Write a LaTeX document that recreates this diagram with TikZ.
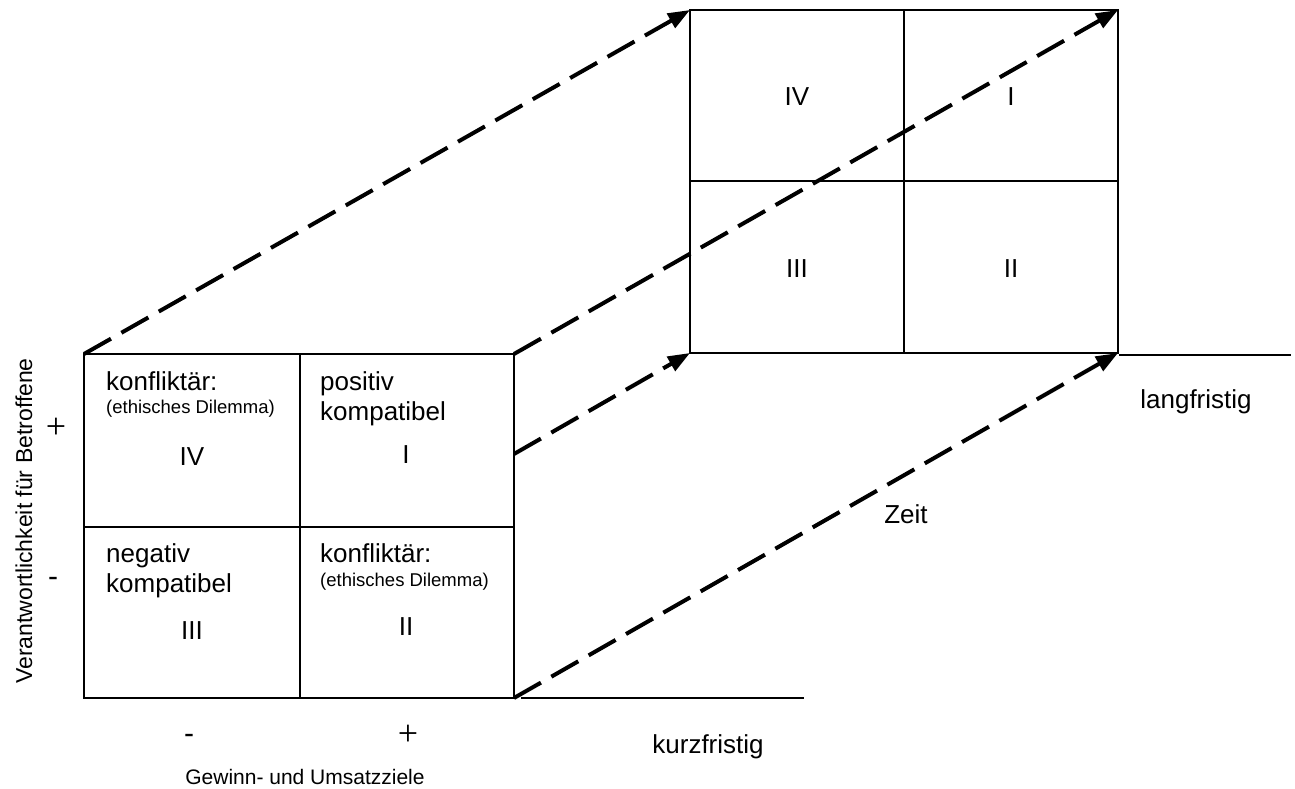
\documentclass[tikz,border=0pt]{standalone}
\usepackage{fontspec}
\setmainfont{Liberation Sans}
\newfontfamily\plusfont{Liberation Serif}
\usetikzlibrary{arrows.meta}
\begin{document}
\begin{tikzpicture}[x=1pt,y=-1pt,
  boxline/.style={line width=2pt, line cap=rect},
  dasharrow/.style={line width=4pt, dash pattern=on 31pt off 12pt,
    -{Triangle[length=22pt,width=16pt]}},
  big/.style={font=\fontsize{26}{30}\selectfont, inner sep=0pt},
  small/.style={font=\fontsize{18.5}{22}\selectfont, inner sep=0pt},
  axis/.style={font=\fontsize{21}{25}\selectfont, inner sep=0pt},
  vaxis/.style={font=\fontsize{23}{27}\selectfont, inner sep=0pt},
  sign/.style={font=\plusfont\fontsize{36}{40}\selectfont, inner sep=0pt, anchor=base},
  minus/.style={font=\fontsize{30}{34}\selectfont, inner sep=0pt, anchor=base}]
\useasboundingbox (0,0) rectangle (1295,789);

% front square corners
\coordinate (fTL) at (84,354);
\coordinate (fTM) at (300,354);
\coordinate (fTR) at (514,354);
\coordinate (fML) at (84,527);
\coordinate (fMR) at (514,527);
\coordinate (fBL) at (84,698);
\coordinate (fBM) at (300,698);
\coordinate (fBR) at (514,698);
\coordinate (fR)  at (514,454);
% back square corners
\coordinate (bTL) at (690,10);
\coordinate (bTM) at (904,10);
\coordinate (bTR) at (1118,10);
\coordinate (bML) at (690,181);
\coordinate (bMR) at (1118,181);
\coordinate (bBL) at (690,353);
\coordinate (bBM) at (904,353);
\coordinate (bBR) at (1118,353);
% time axis lines
\coordinate (k1) at (522,698);
\coordinate (k2) at (803,698);
\coordinate (l1) at (1120,355);
\coordinate (l2) at (1290,355);

% front square
\draw[boxline] (fTL) rectangle (fBR);
\draw[boxline] (fTM) -- (fBM);
\draw[boxline] (fML) -- (fMR);
% back square
\draw[boxline] (bTL) rectangle (bBR);
\draw[boxline] (bTM) -- (bBM);
\draw[boxline] (bML) -- (bMR);
% axis lines
\draw[boxline] (k1) -- (k2);
\draw[boxline] (l1) -- (l2);

% dashed arrows
\draw[dasharrow] (fTL) -- (bTL);
\draw[dasharrow] (fTR) -- (bTR);
\draw[dasharrow] (fR) -- (bBL);
\draw[dasharrow] (fBR) -- (bBR);

% front cell texts
\node[big, anchor=base west] (a1) at (106,390) {konfliktär:};
\node[small, anchor=base west] (a2) at (106,413) {(ethisches Dilemma)};
\node[big] (a3) at (192,457) {IV};
\node[big, anchor=base west] (b1) at (320,390) {positiv};
\node[big, anchor=base west] (b2) at (320,420) {kompatibel};
\node[big] (b3) at (406,455) {I};
\node[big, anchor=base west] (c1) at (106,562) {negativ};
\node[big, anchor=base west] (c2) at (106,592) {kompatibel};
\node[big] (c3) at (192,631) {III};
\node[big, anchor=base west] (d1) at (320,562) {konfliktär:};
\node[small, anchor=base west] (d2) at (320,586) {(ethisches Dilemma)};
\node[big] (d3) at (406,627) {II};

% back cell texts
\node[big] (e1) at (797,97) {IV};
\node[big] (e2) at (1011,97) {I};
\node[big] (e3) at (797,269) {III};
\node[big] (e4) at (1011,269) {II};

% axis labels
\node[vaxis, rotate=90] (vl) at (24,521) {Verantwortlichkeit für Betroffene};
\node[sign] (vp) at (56,438) {+};
\node[minus] (vm) at (53,586) {-};
\node[minus] (hm) at (189,743) {-};
\node[sign] (hp) at (408,745) {+};
\node[axis, anchor=base] (hl) at (305,784) {Gewinn- und Umsatzziele};
\node[big, anchor=base] (kz) at (708,753) {kurzfristig};
\node[big, anchor=base] (lf) at (1196,408) {langfristig};
\node[big, anchor=base] (zt) at (906,523) {Zeit};
\end{tikzpicture}
\end{document}
